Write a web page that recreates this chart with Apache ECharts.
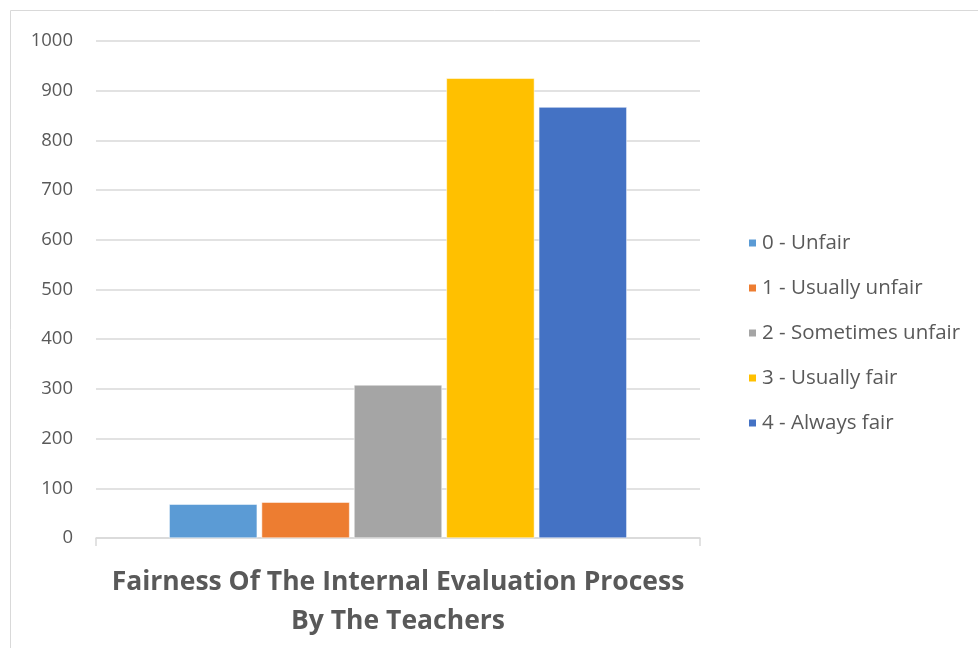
<!DOCTYPE html>
<html>
<head>
<meta charset="utf-8">
<script src="https://cdn.jsdelivr.net/npm/echarts@6/dist/echarts.min.js"></script>
<style>html,body{margin:0;padding:0;background:#fff}#c{width:978px;height:648px}</style>
</head>
<body>
<div id="c"></div>
<script>
var categories = ['Fairness Of The Internal Evaluation Process'];
var seriesNames = ['0 - Unfair', '1 - Usually unfair', '2 - Sometimes unfair', '3 - Usually fair', '4 - Always fair'];
var seriesValues = [68, 72, 308, 925, 867];
var seriesColors = ['#5B9BD5', '#ED7D31', '#A5A5A5', '#FFC000', '#4472C4'];
var yTicks = [0, 100, 200, 300, 400, 500, 600, 700, 800, 900, 1000];
var axisTitle = 'Fairness Of The Internal Evaluation Process\nBy The Teachers';

var chart = echarts.init(document.getElementById('c'));
var font = '"Open Sans", "Liberation Sans", sans-serif';
chart.setOption({
  animation: false,
  textStyle: { fontFamily: font },
  graphic: [{
    type: 'rect', shape: { x: 10.5, y: 10.5, width: 990, height: 660 },
    style: { fill: 'none', stroke: '#d9d9d9', lineWidth: 1 }, silent: true, z: -1
  }],
  grid: { left: 96, right: 278, top: 41, bottom: 110, containLabel: false },
  legend: {
    orient: 'vertical', left: 742, top: 226, itemGap: 21,
    itemWidth: 9, itemHeight: 9, icon: 'rect',
    textStyle: { fontSize: 20.5, lineHeight: 24, color: '#595959', fontFamily: font },
    data: seriesNames
  },
  xAxis: {
    type: 'category', data: categories,
    axisLine: { lineStyle: { color: '#d9d9d9', width: 1.5 } },
    axisTick: { show: true, length: 8, alignWithLabel: false, lineStyle: { color: '#d9d9d9', width: 1.5 } },
    axisLabel: { show: false },
    name: axisTitle, nameLocation: 'middle', nameGap: 25,
    nameTextStyle: { fontSize: 26.5, fontWeight: 'bold', color: '#595959', lineHeight: 39, fontFamily: font }
  },
  yAxis: {
    type: 'value', min: yTicks[0], max: yTicks[yTicks.length - 1], interval: 100,
    axisLine: { show: false }, axisTick: { show: false },
    axisLabel: { fontSize: 18.5, color: '#595959', margin: 23, fontFamily: font,
      formatter: function (v) { return String(v); } },
    splitLine: { lineStyle: { color: '#d9d9d9', width: 1.5 } }
  },
  series: seriesNames.map(function (n, i) {
    return {
      name: n, type: 'bar', barWidth: 88, barGap: '5%',
      itemStyle: { color: seriesColors[i], borderColor: '#ffffff', borderWidth: 0.5 },
      data: [seriesValues[i]]
    };
  })
});
</script>
</body>
</html>
